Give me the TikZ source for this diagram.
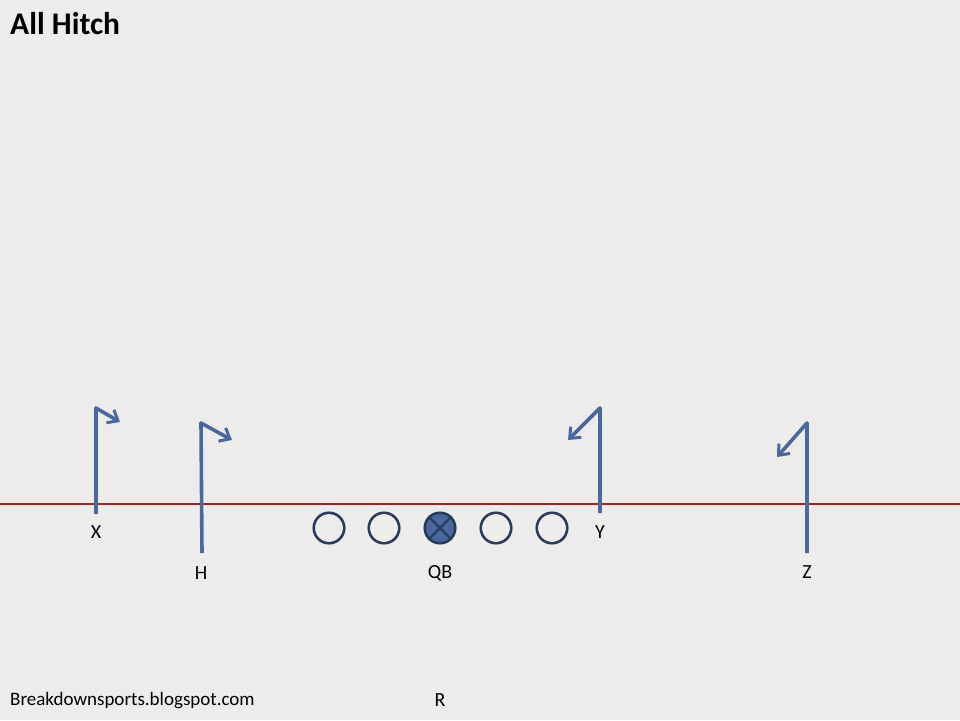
\documentclass[tikz,border=0pt]{standalone}
\usepackage{fontspec}
\setmainfont{Carlito}
\usetikzlibrary{arrows.meta}
\definecolor{bg}{RGB}{238,236,234}
\definecolor{route}{RGB}{70,106,160}
\definecolor{oline}{RGB}{40,60,95}
\definecolor{qbfill}{RGB}{72,105,160}
\definecolor{scrim}{RGB}{170,30,30}
\begin{document}
\begin{tikzpicture}[x=1pt,y=-1pt,
  routeline/.style={draw=route,line width=3.6pt,line join=round,-{Straight Barb[length=9pt,width=15pt,line width=3pt]}},
  lineman/.style={circle,draw=oline,line width=2.6pt,minimum size=30.5pt,inner sep=0pt},
  lbl/.style={font=\fontsize{20}{22}\selectfont,inner sep=0pt}]
\useasboundingbox (0,0) rectangle (960,720);
\fill[bg] (0,0) rectangle (960,720);
\node[anchor=west,font=\bfseries\fontsize{31.5}{34}\selectfont,inner sep=0pt] (title) at (10,24) {All Hitch};
\node[anchor=west,font=\fontsize{19}{22}\selectfont,inner sep=0pt] (foot) at (10,701) {Breakdownsports.blogspot.com};
% line of scrimmage
\coordinate (losL) at (0,504);
\coordinate (losR) at (960,504);
\draw[scrim,line width=1.3pt] (losL) -- (losR);
% linemen
\node[lineman] (lt) at (329,528) {};
\node[lineman] (lg) at (384,528) {};
\node[lineman,fill=qbfill] (c) at (440,528) {};
\draw[oline,line width=2.4pt] (c.north west) -- (c.south east) (c.north east) -- (c.south west);
\node[lineman] (rg) at (496,528) {};
\node[lineman] (rt) at (552,528) {};
% labels
\node[lbl] (xl) at (96,532) {X};
\node[lbl] (hl) at (201,573) {H};
\node[lbl] (qb) at (440,573) {QB};
\node[lbl] (yl) at (600,532) {Y};
\node[lbl] (zl) at (807,572) {Z};
\node[lbl] (rl) at (440,700) {R};
% routes
\coordinate (xs) at (96,514); \coordinate (xt) at (96,408); \coordinate (xe) at (120,422);
\coordinate (hs) at (202,553); \coordinate (ht) at (201,423); \coordinate (he) at (232,440);
\coordinate (ys) at (600,513); \coordinate (yt) at (600,408); \coordinate (ye) at (568,440);
\coordinate (zs) at (807,553); \coordinate (zt) at (807,423); \coordinate (ze) at (777,457);
\draw[routeline] (xs) -- (xt) -- (xe);
\draw[routeline] (hs) -- (ht) -- (he);
\draw[routeline] (ys) -- (yt) -- (ye);
\draw[routeline] (zs) -- (zt) -- (ze);
\end{tikzpicture}
\end{document}
